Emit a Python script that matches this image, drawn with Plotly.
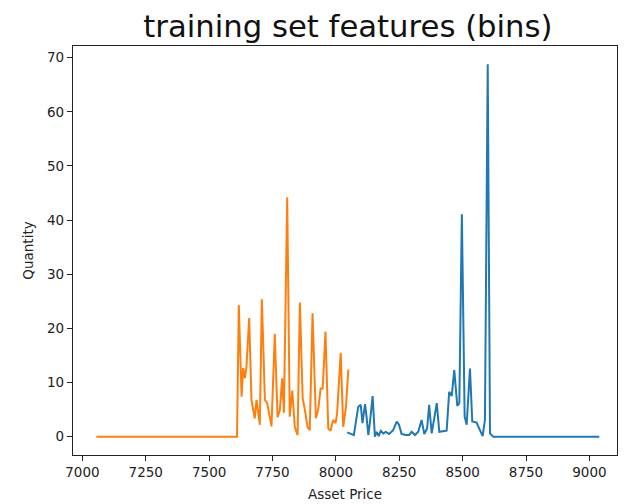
import plotly.graph_objects as go

# Orange series (first half of bins)
orange_price = [7055, 7610, 7617, 7628, 7634, 7641, 7647, 7658, 7667, 7680, 7687, 7693, 7700,
                7708, 7720, 7729, 7737, 7746, 7759, 7770, 7779, 7788, 7795, 7808, 7818,
                7828, 7838, 7849, 7858, 7869, 7878, 7888, 7897, 7908, 7921, 7930, 7940,
                7948, 7959, 7970, 7979, 7989, 7999, 8005, 8019, 8029, 8040, 8049]
orange_qty = [0, 0, 24.3, 7.4, 12.7, 10.8, 12.7, 21.9, 6.8, 3.4, 6.8, 4.9, 2.2,
              25.4, 6.8, 6.2, 4.4, 1.9, 19.0, 3.6, 4.9, 10.8, 4.4, 44.2, 3.7,
              8.5, 1.8, 0.3, 24.8, 7.1, 4.9, 1.8, 1.2, 22.8, 3.4, 4.9, 8.9,
              8.9, 19.4, 1.5, 1.1, 3.1, 2.5, 4.3, 15.5, 1.8, 5.5, 12.4]

# Blue series (second half of bins)
blue_price = [8045, 8066, 8071, 8088, 8098, 8105, 8115, 8121, 8128, 8134, 8145, 8154,
              8161, 8169, 8177, 8187, 8197, 8210, 8226, 8240, 8249, 8259, 8276, 8289,
              8299, 8312, 8325, 8338, 8349, 8360, 8368, 8378, 8388, 8398, 8408, 8437,
              8447, 8457, 8467, 8479, 8487, 8497, 8508, 8516, 8529, 8538, 8555, 8566,
              8579, 8588, 8599, 8608, 8621, 9039]
blue_qty = [0.8, 0.5, 0.3, 5.5, 5.9, 2.5, 6.0, 3.7, 0.3, 2.5, 7.5, 0.0,
            0.9, 0.1, 1.1, 0.6, 0.9, 0.5, 1.2, 2.8, 2.2, 0.5, 0.3, 0.3,
            0.9, 0.3, 0.9, 3.1, 0.5, 1.5, 5.9, 0.6, 3.2, 6.2, 0.9, 1.1,
            8.3, 7.5, 12.3, 5.7, 6.2, 41.1, 3.7, 2.2, 12.6, 2.8, 2.6, 1.5,
            0.1, 3.1, 68.8, 0.6, 0.0, 0.0]

x_ticks = [7000, 7250, 7500, 7750, 8000, 8250, 8500, 8750, 9000]
y_ticks = [0, 10, 20, 30, 40, 50, 60, 70]

FONT = "DejaVu Sans"

fig = go.Figure()
fig.add_trace(go.Scatter(x=blue_price, y=blue_qty, mode="lines",
                         line=dict(color="#1f77b4", width=2), showlegend=False))
fig.add_trace(go.Scatter(x=orange_price, y=orange_qty, mode="lines",
                         line=dict(color="#ff7f0e", width=2), showlegend=False))

axis_common = dict(showline=True, mirror=True, linecolor="#222", linewidth=1.2,
                   ticks="outside", ticklen=5, tickwidth=1.2, tickcolor="#222",
                   showgrid=False, zeroline=False, automargin=False,
                   tickfont=dict(family=FONT, size=13.5, color="#222"))

fig.update_layout(
    width=628, height=504,
    margin=dict(l=73, r=11, t=46, b=49),
    paper_bgcolor="white", plot_bgcolor="white",
    font=dict(family=FONT, color="#111"),
    title=dict(text="training set features (bins)", x=0.554, xanchor="center",
               y=1 - 26 / 504, yanchor="middle", yref="container",
               font=dict(family=FONT, size=30.7, color="#111")),
    xaxis=dict(range=[6963, 9109], tickvals=x_ticks,
               ticktext=[str(v) for v in x_ticks],
               title=dict(text="Asset Price", standoff=10,
                          font=dict(family=FONT, size=13.5, color="#222")),
               **axis_common),
    yaxis=dict(range=[-3.38, 72.16], tickvals=y_ticks,
               ticktext=[str(v) for v in y_ticks],
               title=dict(text="Quantity", standoff=10,
                          font=dict(family=FONT, size=13.5, color="#222")),
               **axis_common),
)

fig.write_html("out.html", config={"displayModeBar": False},
               post_script="document.body.style.margin='0';document.body.style.overflow='hidden';")
